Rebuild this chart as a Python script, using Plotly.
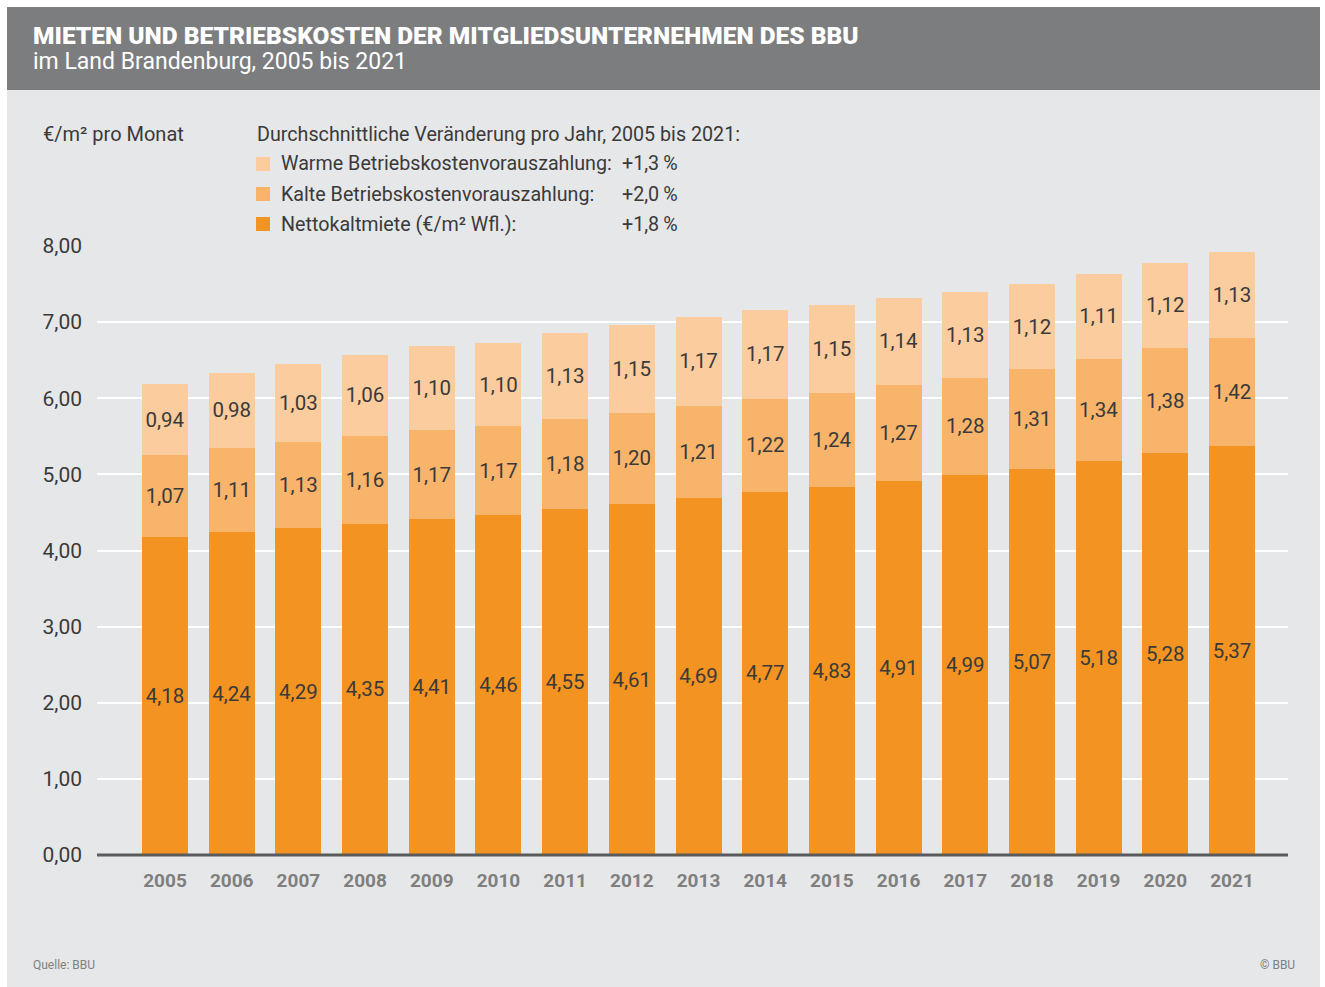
import plotly.graph_objects as go

years = ["2005", "2006", "2007", "2008", "2009", "2010", "2011", "2012", "2013",
         "2014", "2015", "2016", "2017", "2018", "2019", "2020", "2021"]
netto = [4.18, 4.24, 4.29, 4.35, 4.41, 4.46, 4.55, 4.61, 4.69, 4.77, 4.83, 4.91,
         4.99, 5.07, 5.18, 5.28, 5.37]
kalt = [1.07, 1.11, 1.13, 1.16, 1.17, 1.17, 1.18, 1.20, 1.21, 1.22, 1.24, 1.27,
        1.28, 1.31, 1.34, 1.38, 1.42]
warm = [0.94, 0.98, 1.03, 1.06, 1.10, 1.10, 1.13, 1.15, 1.17, 1.17, 1.15, 1.14,
        1.13, 1.12, 1.11, 1.12, 1.13]
series_names = ["Nettokaltmiete (€/m² Wfl.):", "Kalte Betriebskostenvorauszahlung:",
                "Warme Betriebskostenvorauszahlung:"]
series_change = ["+1,8\u2009%", "+2,0\u2009%", "+1,3\u2009%"]
y_ticks = [0, 1, 2, 3, 4, 5, 6, 7, 8]

C_NETTO = "#F39322"
C_KALT = "#F8B46A"
C_WARM = "#FBCC9D"
BG = "#E6E7E8"
HEADER = "#7B7D7F"
TXT = "#3A3A3A"
FONT = "Roboto"

W, H = 1325, 987
L, R, T, B = 97, 1288, 246, 855


def px(x):
    return (x - L) / (R - L)


def py(y):
    return (B - y) / (B - T)


def de(v):
    return f"{v:.2f}".replace(".", ",")


fig = go.Figure()
for vals, col, name in [(netto, C_NETTO, series_names[0]),
                        (kalt, C_KALT, series_names[1]),
                        (warm, C_WARM, series_names[2])]:
    fig.add_trace(go.Bar(
        x=years, y=vals, name=name, marker=dict(color=col, line=dict(width=0)),
        text=[de(v) for v in vals], textposition="inside",
        insidetextanchor="middle", constraintext="none",
        textfont=dict(family=FONT, size=20.5, color=TXT),
        width=0.69, showlegend=False, hoverinfo="skip"))

shapes = [
    dict(type="rect", xref="paper", yref="paper", x0=px(7), x1=px(1320),
         y0=py(987), y1=py(90), fillcolor=BG, line=dict(width=0), layer="below"),
    dict(type="rect", xref="paper", yref="paper", x0=px(7), x1=px(1320),
         y0=py(90), y1=py(7), fillcolor=HEADER, line=dict(width=0), layer="below"),
    dict(type="line", xref="paper", yref="paper", x0=0, x1=1, y0=0, y1=0,
         line=dict(color="#5B5B5B", width=3), layer="above"),
]

annotations = [
    dict(text="MIETEN UND BETRIEBSKOSTEN DER MITGLIEDSUNTERNEHMEN DES BBU",
         x=px(31), y=py(35), xanchor="left", yanchor="middle",
         font=dict(family=FONT, size=24.5, color="white", weight=900)),
    dict(text="im Land Brandenburg, 2005 bis 2021", x=px(31), y=py(62),
         xanchor="left", yanchor="middle",
         font=dict(family=FONT, size=23, color="white")),
    dict(text="€/m² pro Monat", x=px(41), y=py(134), xanchor="left", yanchor="middle",
         font=dict(family=FONT, size=20, color=TXT)),
    dict(text="Durchschnittliche Veränderung pro Jahr, 2005 bis 2021:", x=px(255),
         y=py(134), xanchor="left", yanchor="middle",
         font=dict(family=FONT, size=19.7, color=TXT)),
    dict(text="Quelle: BBU", x=px(31), y=py(965), xanchor="left", yanchor="middle",
         font=dict(family=FONT, size=12, color="#808080")),
    dict(text="© BBU", x=px(1297), y=py(965), xanchor="right", yanchor="middle",
         font=dict(family=FONT, size=12, color="#808080")),
]

legend_rows = [(164, C_WARM, 2), (194, C_KALT, 1), (224, C_NETTO, 0)]
for yc, col, idx in legend_rows:
    shapes.append(dict(type="rect", xref="paper", yref="paper", x0=px(256), x1=px(270),
                       y0=py(yc + 7), y1=py(yc - 7), fillcolor=col, line=dict(width=0)))
    annotations.append(dict(text=series_names[idx], x=px(279), y=py(yc), xanchor="left",
                            yanchor="middle", font=dict(family=FONT, size=19.7, color=TXT)))
    annotations.append(dict(text=series_change[idx], x=px(680), y=py(yc), xanchor="right",
                            yanchor="middle", font=dict(family=FONT, size=19.7, color=TXT)))

for a in annotations:
    a.update(xref="paper", yref="paper", showarrow=False)

fig.update_layout(
    width=W, height=H, barmode="stack", bargap=0.31,
    margin=dict(l=L, r=W - R, t=T, b=H - B, pad=0),
    paper_bgcolor="white", plot_bgcolor="rgba(0,0,0,0)",
    separators=",.", shapes=shapes, annotations=annotations,
    font=dict(family=FONT, color=TXT),
    xaxis=dict(type="category", range=[-1.02, 16.84], showgrid=False, zeroline=False,
               showline=False, ticks="", ticklabelstandoff=12,
               tickfont=dict(family=FONT, size=19, color="#7F7F7F", weight="bold")),
    yaxis=dict(range=[0, 8.0], tickvals=y_ticks, tickformat=".2f", showgrid=True,
               gridcolor="white", gridwidth=2, zeroline=False, showline=False,
               ticks="", ticklabelstandoff=14,
               tickfont=dict(family=FONT, size=21, color=TXT)),
)

fig.write_html("out.html", config={"displayModeBar": False},
               post_script="document.body.style.margin='0';")
